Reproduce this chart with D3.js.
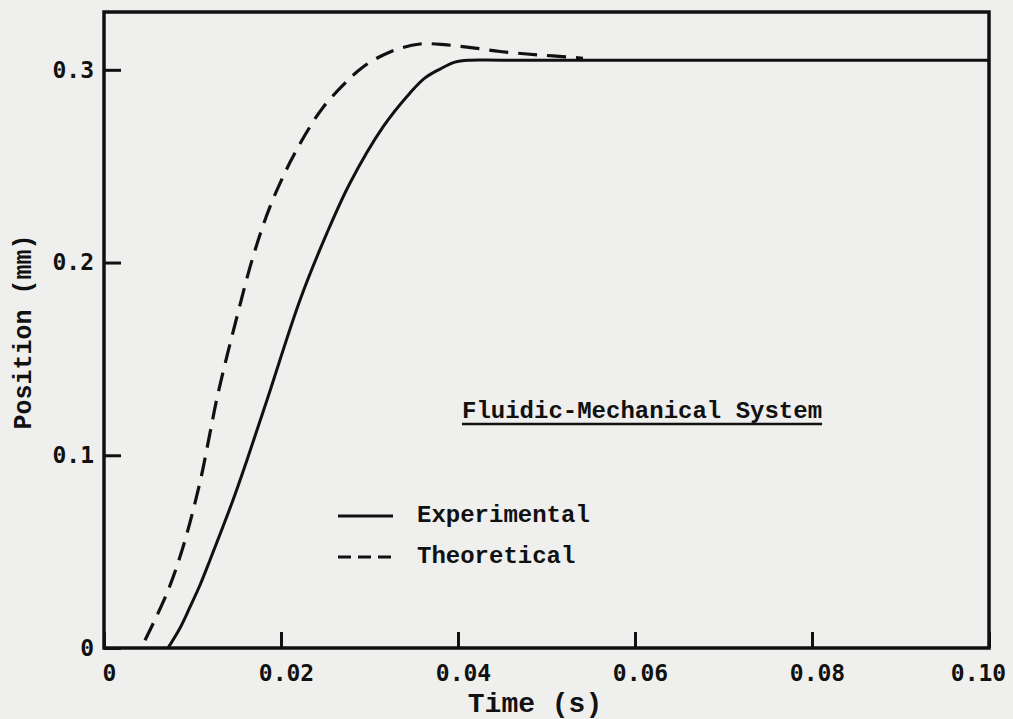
<!DOCTYPE html>
<html>
<head>
<meta charset="utf-8">
<script src="https://cdn.jsdelivr.net/npm/d3@7"></script>
<style>
  html, body { margin: 0; padding: 0; background: #efefed; }
  .tick text { font-family: 'DejaVu Sans Mono', monospace; font-weight: bold; font-size: 23px; fill: #111; }
  .tick line { stroke: #111; stroke-width: 3; }
  .type { font-family: 'Liberation Mono', 'Courier New', monospace; font-weight: bold; fill: #111; }
</style>
</head>
<body>
<svg id="chart"></svg>
<script>
// Experimental response (time in s, position in mm)
const expTime = [0.00723, 0.00859, 0.00972, 0.01085, 0.01198, 0.01458, 0.01616, 0.01842, 0.02215, 0.0252, 0.0278, 0.03153, 0.03458, 0.03627, 0.03797, 0.03966, 0.04136, 0.045, 0.1];
const expPos = [0, 0.0104, 0.0213, 0.0327, 0.0457, 0.0768, 0.0976, 0.1287, 0.1806, 0.2154, 0.2413, 0.2704, 0.288, 0.2958, 0.3004, 0.304, 0.305, 0.305, 0.305];

// Theoretical response
const theoTime = [0.00463, 0.00712, 0.00893, 0.01085, 0.01198, 0.01288, 0.01503, 0.01684, 0.01876, 0.02102, 0.02328, 0.02475, 0.02701, 0.02927, 0.03232, 0.03571, 0.03876, 0.0417, 0.04475, 0.0478, 0.05073, 0.05412];
const theoPos = [0.004, 0.0285, 0.0524, 0.0861, 0.1116, 0.132, 0.172, 0.203, 0.229, 0.252, 0.2705, 0.2805, 0.292, 0.3015, 0.3093, 0.3134, 0.3129, 0.3114, 0.3095, 0.3082, 0.3072, 0.306];

const xTicks = [0, 0.02, 0.04, 0.06, 0.08, 0.10];
const xTickLabels = ['0', '0.02', '0.04', '0.06', '0.08', '0.10'];
const yTicks = [0, 0.1, 0.2, 0.3];
const yTickLabels = ['0', '0.1', '0.2', '0.3'];

const legendNames = ['Experimental', 'Theoretical'];

const W = 1013, H = 719;
const m = { left: 104, right: 989, top: 12, bottom: 648 };

const svg = d3.select('#chart').attr('width', W).attr('height', H).style('display', 'block');

const x = d3.scaleLinear().domain([0, 0.1]).range([m.left, m.right]);
const y = d3.scaleLinear().domain([0, 0.33]).range([m.bottom, m.top]);

// Axes with inward ticks
svg.append('g')
  .attr('transform', 'translate(0,' + m.bottom + ')')
  .call(d3.axisBottom(x).tickValues(xTicks).tickSize(-16).tickPadding(17)
    .tickFormat((d, i) => xTickLabels[i]))
  .call(g => g.select('.domain').remove())
  .call(g => g.selectAll('.tick text').attr('dx', (d, i) => i === xTicks.length - 1 ? -11 : 5));

svg.append('g')
  .attr('transform', 'translate(' + m.left + ',0)')
  .call(d3.axisLeft(y).tickValues(yTicks).tickSize(-17).tickPadding(10)
    .tickFormat((d, i) => yTickLabels[i]))
  .call(g => g.select('.domain').remove());

// Frame
svg.append('rect')
  .attr('x', m.left).attr('y', m.top)
  .attr('width', m.right - m.left).attr('height', m.bottom - m.top)
  .attr('fill', 'none').attr('stroke', '#111').attr('stroke-width', 3.5);

const line = d3.line().x(d => x(d[0])).y(d => y(d[1])).curve(d3.curveCatmullRom.alpha(0.5));

// Curves
svg.append('path')
  .datum(expTime.map((t, i) => [t, expPos[i]]))
  .attr('d', line)
  .attr('fill', 'none').attr('stroke', '#111').attr('stroke-width', 3);

svg.append('path')
  .datum(theoTime.map((t, i) => [t, theoPos[i]]))
  .attr('d', line)
  .attr('fill', 'none').attr('stroke', '#111').attr('stroke-width', 3.2)
  .attr('stroke-dasharray', '19,10');

// Axis titles
svg.append('text')
  .attr('class', 'type')
  .attr('x', 535).attr('y', 712)
  .attr('text-anchor', 'middle')
  .style('font-size', '28px')
  .text('Time (s)');

svg.append('text')
  .attr('class', 'type')
  .attr('transform', 'translate(31,332) rotate(-90)')
  .attr('text-anchor', 'middle')
  .style('font-size', '25px')
  .text('Position (mm)');

// Title
const title = svg.append('text')
  .attr('class', 'type')
  .attr('x', 462).attr('y', 418)
  .style('font-size', '24px')
  .text('Fluidic-Mechanical System');
const tw = title.node().getComputedTextLength();
svg.append('line')
  .attr('x1', 462).attr('x2', 462 + tw)
  .attr('y1', 424).attr('y2', 424)
  .attr('stroke', '#111').attr('stroke-width', 2.5);

// Legend
const legend = svg.append('g');
legendNames.forEach((name, i) => {
  const ly = 516 + i * 41;
  legend.append('line')
    .attr('x1', 338).attr('x2', 393)
    .attr('y1', ly).attr('y2', ly)
    .attr('stroke', '#111').attr('stroke-width', 3)
    .attr('stroke-dasharray', i === 1 ? '13,7' : null);
  legend.append('text')
    .attr('class', 'type')
    .attr('x', 417).attr('y', ly + 6)
    .style('font-size', '24px')
    .text(name);
});
</script>
</body>
</html>
